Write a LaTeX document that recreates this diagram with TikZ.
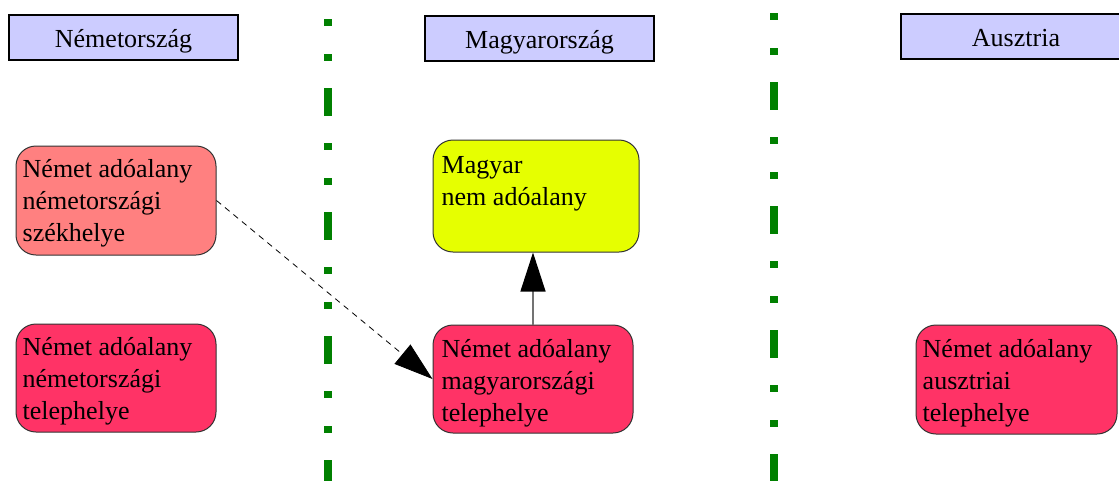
\documentclass[tikz,border=0pt]{standalone}
\usepackage{fontspec}
\setmainfont{Liberation Serif}
\usetikzlibrary{arrows.meta}
\definecolor{hdrfill}{HTML}{CCCCFF}
\definecolor{salmonfill}{HTML}{FF8080}
\definecolor{redfill}{HTML}{FF3366}
\definecolor{yellowfill}{HTML}{E6FF00}
\definecolor{sepgreen}{HTML}{008000}
\tikzset{
  hdrbox/.style={draw=black, line width=1.1pt, fill=hdrfill, minimum width=229pt, minimum height=45pt, inner sep=0pt, text height=19pt, text depth=0pt, font=\fontsize{26pt}{30pt}\selectfont},
  entbox/.style={draw=black!80, line width=1pt, rounded corners=20pt, minimum width=200pt, minimum height=108pt, inner sep=0pt},
  enttext/.style={anchor=north west, inner sep=0pt, align=left, font=\fontsize{26pt}{32pt}\selectfont},
  separator/.style={draw=sepgreen, line width=8pt, dash pattern=on 7pt off 28pt on 7pt off 27pt on 28pt off 27pt},
  headtip/.style={-{Triangle[length=39pt,width=25pt,color=black]}}
}
\newcommand{\firstline}{\rule{0pt}{20pt}}
\begin{document}
\begin{tikzpicture}[x=1pt,y=-1pt]
\clip (0,0) rectangle (1119,480);
\fill[white] (0,0) rectangle (1119,480);
% separators
\coordinate (s1a) at (328,19);
\coordinate (s1b) at (328,485);
\coordinate (s2a) at (774,13);
\coordinate (s2b) at (774,485);
\path[separator] (s1a) -- (s1b);
\path[separator] (s2a) -- (s2b);
% headers
\node[hdrbox] (hde) at (123.5,37.5) {Németország};
\node[hdrbox] (hhu) at (539.5,38.5) {Magyarország};
\node[hdrbox, minimum width=230pt] (hat) at (1016,36.5) {Ausztria};
% entity boxes
\node[entbox, fill=salmonfill, minimum height=109pt] (sz) at (116,200.5) {};
\node[enttext] (szt) at ([xshift=7pt,yshift=-12pt]sz.north west) {\firstline Német adóalany\\németországi\\székhelye};
\node[entbox, fill=redfill] (nt) at (116,378) {};
\node[enttext] (ntt) at ([xshift=7pt,yshift=-12pt]nt.north west) {\firstline Német adóalany\\németországi\\telephelye};
\node[entbox, fill=yellowfill, minimum width=206pt, minimum height=112pt] (mg) at (536,196) {};
\node[enttext] (mgt) at ([xshift=9pt,yshift=-14pt]mg.north west) {\firstline Magyar\\nem adóalany};
\node[entbox, fill=redfill] (mt) at (533,379) {};
\node[enttext] (mtt) at ([xshift=9pt,yshift=-13pt]mt.north west) {\firstline Német adóalany\\magyarországi\\telephelye};
\node[entbox, fill=redfill, minimum width=201pt, minimum height=109pt] (au) at (1016.5,379.5) {};
\node[enttext] (aut) at ([xshift=7pt,yshift=-13pt]au.north west) {\firstline Német adóalany\\ausztriai\\telephelye};
% connectors
\draw[headtip, draw=black, line width=0.8pt, dash pattern=on 6pt off 5pt] (sz.east) -- (mt.west);
\draw[headtip, draw=black!55, line width=1.2pt] (mt.north) -- (mt.north |- mg.south);
\end{tikzpicture}
\end{document}
